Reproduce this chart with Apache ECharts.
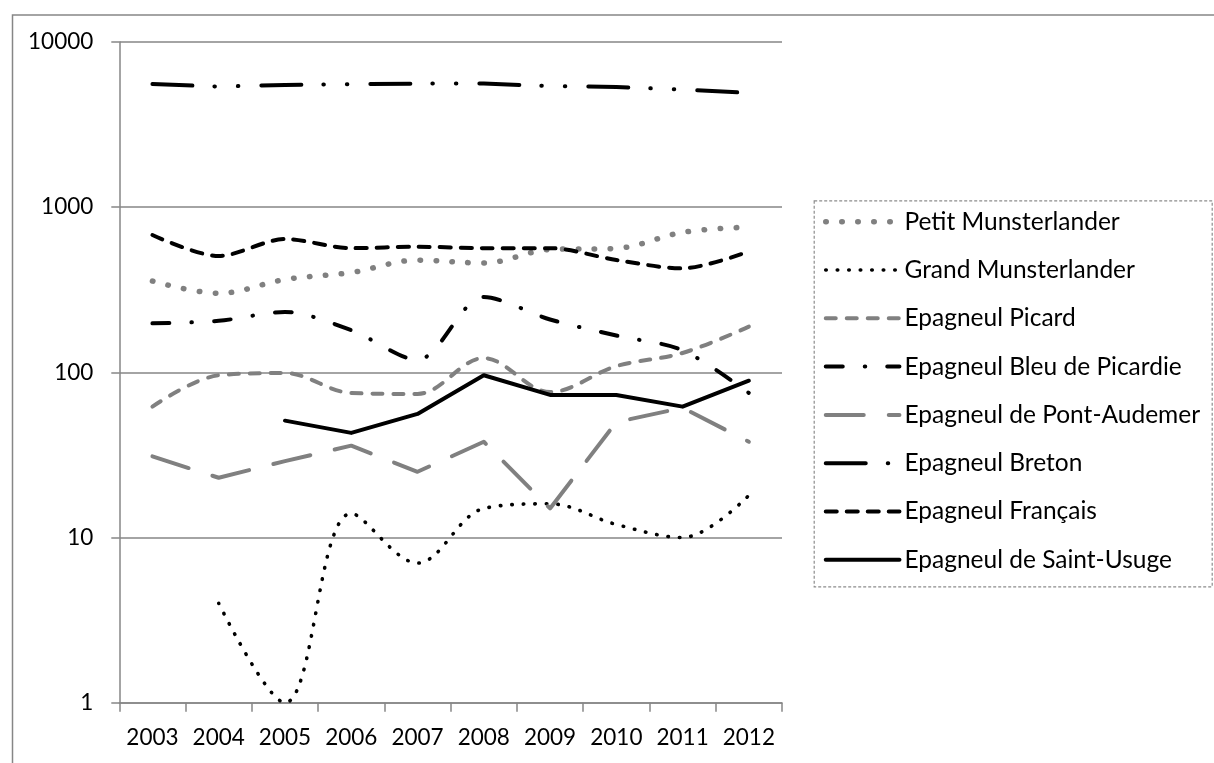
<!DOCTYPE html>
<html>
<head>
<meta charset="utf-8">
<script src="https://cdn.jsdelivr.net/npm/echarts@6/dist/echarts.min.js"></script>
<style>
  html, body { margin: 0; padding: 0; background: #fff; }
  #chart { width: 1214px; height: 763px; }
</style>
</head>
<body>
<div id="chart"></div>
<script>
// data
const years = ['2003', '2004', '2005', '2006', '2007', '2008', '2009', '2010', '2011', '2012'];
const yTicks = [1, 10, 100, 1000, 10000];

const petitMunsterlander = [357, 301, 365, 402, 478, 459, 554, 563, 704, 758];
const grandMunsterlander = [null, 4, 1, 14, 7, 15, 16, 12, 10, 18];
const epagneulPicard = [62, 96, 99, 75, 74, 122, 76, 109, 131, 189];
const bleuDePicardie = [198, 205, 232, 180, 119, 286, 209, 167, 136, 75];
const pontAudemer = [31, 23, 29, 36, 25, 38, 15, 50, 61, 38];
const breton = [5560, 5370, 5500, 5560, 5600, 5600, 5410, 5340, 5150, 4920];
const francais = [678, 506, 641, 565, 576, 565, 565, 479, 426, 539];
const saintUsuge = [null, null, 51, 43, 56, 96, 73, 73, 62, 89];

const GREY = '#808080';
const AXIS = '#868686';
const FONT = 'Lato';

const chart = echarts.init(document.getElementById('chart'), null, { renderer: 'canvas' });

// helper : one line series
const mk = (name, data, color, width, dash, smooth) => ({
  name: name,
  type: 'line',
  data: data,
  symbol: 'none',
  smooth: smooth,
  connectNulls: false,
  lineStyle: { color: color, width: width, type: dash, cap: 'round', join: 'round' },
  itemStyle: { color: color },
  emphasis: { disabled: true }
});

const option = {
  animation: false,
  backgroundColor: '#ffffff',
  textStyle: { fontFamily: FONT },
  grid: { left: 119.3, right: 432, top: 42, bottom: 60.3, containLabel: false },
  xAxis: {
    type: 'category',
    data: years,
    boundaryGap: true,
    axisLine: { lineStyle: { color: AXIS, width: 1.5 } },
    axisTick: { show: true, length: 9, lineStyle: { color: AXIS, width: 1.5 } },
    axisLabel: { color: '#000', fontSize: 22.5, fontFamily: FONT, margin: 24, interval: 0 },
    splitLine: { show: false }
  },
  yAxis: {
    type: 'log',
    logBase: 10,
    min: yTicks[0],
    max: yTicks[yTicks.length - 1],
    axisLine: { show: true, lineStyle: { color: AXIS, width: 1.5 } },
    axisTick: { show: true, length: 8, lineStyle: { color: AXIS, width: 1.5 } },
    axisLabel: { color: '#000', fontSize: 22.5, fontFamily: FONT, margin: 26, formatter: v => String(v) },
    splitLine: { show: true, lineStyle: { color: AXIS, width: 1.5 } }
  },
  legend: {
    orient: 'vertical',
    left: 823,
    top: 208.7,
    padding: 0,
    itemWidth: 73.7,
    itemHeight: 26,
    itemGap: 22.3,
    itemStyle: { opacity: 0 },
    lineStyle: { width: 'inherit' },
    textStyle: { color: '#000', fontSize: 24.5, fontFamily: FONT, lineHeight: 26 },
    data: ['Petit Munsterlander', 'Grand Munsterlander', 'Epagneul Picard', 'Epagneul Bleu de Picardie',
      'Epagneul de Pont-Audemer', 'Epagneul Breton', 'Epagneul Français', 'Epagneul de Saint-Usuge']
  },
  graphic: [
    // outer chart border (right / bottom run off the picture)
    { type: 'rect', left: 10, top: 12.5, shape: { width: 1400, height: 900 },
      style: { fill: 'none', stroke: AXIS, lineWidth: 1.5 }, silent: true },
    // legend box
    { type: 'rect', left: 811.7, top: 198.3, shape: { width: 398, height: 386 },
      style: { fill: 'none', stroke: '#8c8c8c', lineWidth: 1.2, lineDash: [3, 2] }, silent: true }
  ],
  series: [
    mk('Petit Munsterlander', petitMunsterlander, GREY, 5.5, [0.5, 15.5], 0.35),
    mk('Grand Munsterlander', grandMunsterlander, '#000', 3.6, [0.5, 11], 0.35),
    mk('Epagneul Picard', epagneulPicard, GREY, 4, [10, 11], 0.35),
    mk('Epagneul Bleu de Picardie', bleuDePicardie, '#000', 4, [17, 22, 0.5, 22], 0.3),
    mk('Epagneul de Pont-Audemer', pontAudemer, GREY, 4, [38, 25], false),
    mk('Epagneul Breton', breton, '#000', 4, [40, 22, 0.5, 23, 0.5, 23], false),
    mk('Epagneul Français', francais, '#000', 4, [11, 10], 0.3),
    mk('Epagneul de Saint-Usuge', saintUsuge, '#000', 4, 'solid', false)
  ]
};

chart.setOption(option);
</script>
</body>
</html>
